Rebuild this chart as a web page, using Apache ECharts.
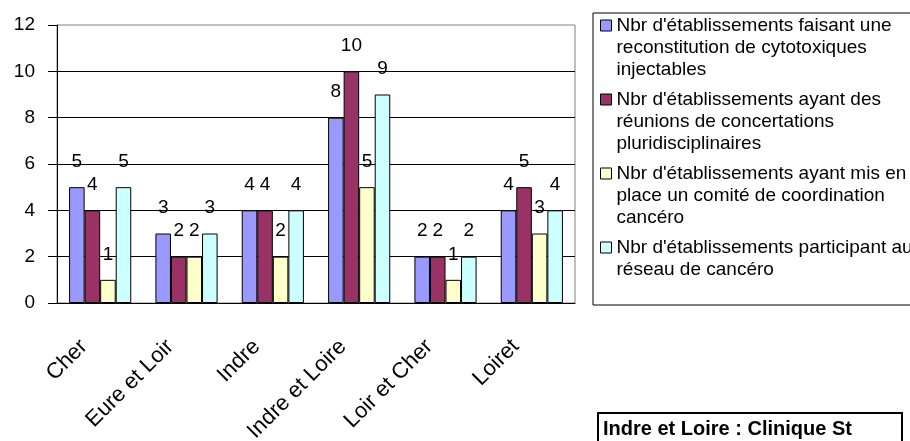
<!DOCTYPE html>
<html>
<head>
<meta charset="utf-8">
<script src="https://cdn.jsdelivr.net/npm/echarts@6/dist/echarts.min.js"></script>
<style>
  html, body { margin: 0; padding: 0; background: #fff; }
  #chart { width: 910px; height: 441px; }
</style>
</head>
<body>
<div id="chart"></div>
<script>
  // data
  const categories = ['Cher', 'Eure et Loir', 'Indre', 'Indre et Loire', 'Loir et Cher', 'Loiret']
  const seriesNames = [
    "Nbr d'établissements faisant une\nreconstitution de cytotoxiques\ninjectables",
    "Nbr d'établissements ayant des\nréunions de concertations\npluridisciplinaires",
    "Nbr d'établissements ayant mis en\nplace un comité de coordination\ncancéro",
    "Nbr d'établissements participant au\nréseau de cancéro"
  ]
  const reconstitution = [5, 3, 4, 8, 2, 4]
  const concertations = [4, 2, 4, 10, 2, 5]
  const comite = [1, 2, 2, 5, 1, 3]
  const reseau = [5, 3, 4, 9, 2, 4]
  const yTicks = [0, 2, 4, 6, 8, 10, 12]
  const noteText = 'Indre et Loire : Clinique St'

  const colors = ['#9999FF', '#993366', '#FFFFCC', '#CCFFFF']
  const font = '"Liberation Sans", Arial, sans-serif'
  const values = [reconstitution, concertations, comite, reseau]

  const chart = echarts.init(document.getElementById('chart'), null, { renderer: 'canvas' })

  chart.setOption({
    animation: false,
    textStyle: { fontFamily: font, color: '#000' },
    title: {
      text: noteText,
      left: 598,
      top: 413,
      borderColor: '#000',
      borderWidth: 2,
      padding: [6, 50, 12, 5],
      textStyle: { fontFamily: font, fontWeight: 'bold', fontSize: 20, color: '#000' }
    },
    legend: {
      orient: 'vertical',
      left: 593,
      top: 13,
      padding: [1, 10, 2, 7],
      borderColor: '#000',
      borderWidth: 1,
      itemWidth: 11,
      itemHeight: 66,
      itemGap: 7,
      selectedMode: false,
      // square sits on the first text line
      icon: 'path://M0,0M0,5.5h11v11h-11zM0,66',
      itemStyle: { borderColor: '#000', borderWidth: 1 },
      formatter: name => name.split('\n').length < 3 ? name + '\n ' : name,
      textStyle: { fontFamily: font, fontSize: 19, lineHeight: 22, color: '#000' },
      data: seriesNames
    },
    grid: {
      left: 57,
      right: 335,
      top: 25,
      bottom: 138,
      outerBoundsMode: 'none',
      show: true,
      borderColor: '#808080',
      borderWidth: 1
    },
    xAxis: {
      type: 'category',
      data: categories,
      axisLine: { lineStyle: { color: '#000', width: 1 } },
      axisTick: { length: 9, lineStyle: { color: '#000' } },
      axisLabel: {
        rotate: 45,
        margin: 24,
        padding: [0, 23, 0, 0],
        fontFamily: font,
        fontSize: 22,
        color: '#000'
      }
    },
    yAxis: {
      type: 'value',
      min: yTicks[0],
      max: yTicks[yTicks.length - 1],
      interval: 2,
      axisLine: { show: true, lineStyle: { color: '#000', width: 1 } },
      axisTick: { show: true, length: 9, lineStyle: { color: '#000' } },
      axisLabel: { margin: 22, fontFamily: font, fontSize: 19, color: '#000' },
      splitLine: { show: true, showMaxLine: false, lineStyle: { color: '#000', width: 1 } }
    },
    series: seriesNames.map((name, i) => ({
      name: name,
      type: 'bar',
      data: values[i],
      barGap: '0%',
      barCategoryGap: '28%',
      itemStyle: { color: colors[i], borderColor: '#000', borderWidth: 1 },
      label: {
        show: true,
        position: 'top',
        distance: 16,
        fontFamily: font,
        fontSize: 19,
        color: '#000'
      }
    }))
  })
</script>
</body>
</html>
